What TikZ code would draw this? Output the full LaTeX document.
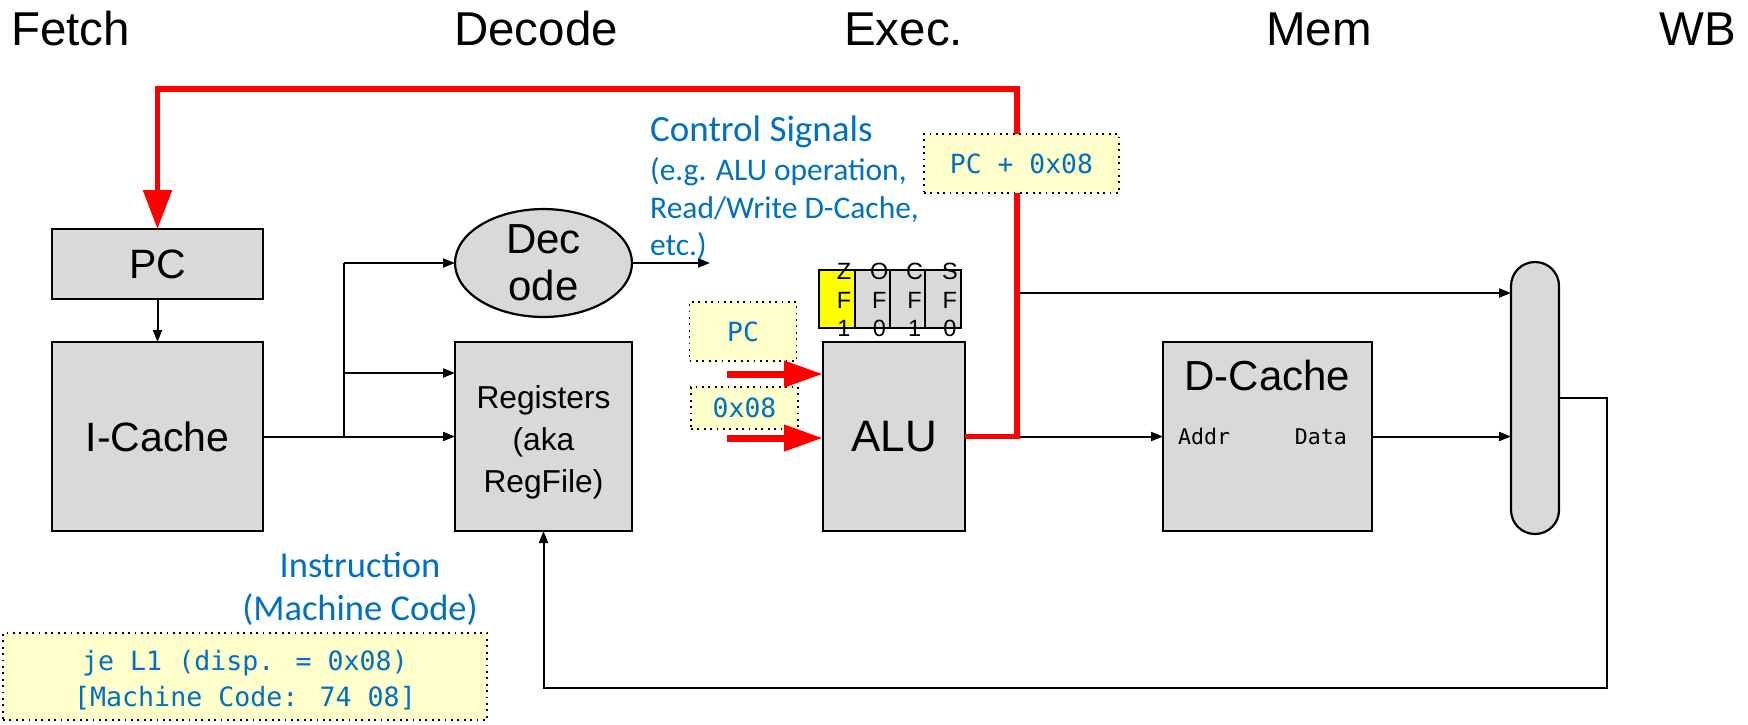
\documentclass[tikz,border=0pt]{standalone}
\usepackage{fontspec}
\setmainfont{Liberation Sans}
\newfontfamily\calfont{Carlito}
\newfontfamily\codefont{DejaVu Sans Mono}
\usetikzlibrary{arrows.meta,shapes.geometric,calc}
\definecolor{boxgray}{RGB}{217,217,217}
\definecolor{notefill}{RGB}{255,255,204}
\definecolor{sigblue}{RGB}{0,112,192}
\definecolor{pathred}{RGB}{255,0,0}
\definecolor{flagyellow}{RGB}{255,255,0}
\newcommand\setfs[2]{\fontsize{#1}{#2}\selectfont}

\begin{document}
\begin{tikzpicture}[x=1pt,y=-1pt,
  unit/.style={draw=black, line width=2.2pt, fill=boxgray, inner sep=0pt, outer sep=0pt},
  box/.style={unit, rectangle},
  note/.style={draw=black, line width=1.8pt, dash pattern=on 1.8pt off 4.6pt,
    fill=notefill, inner sep=0pt, outer sep=0pt, text=sigblue, align=center,
    font=\codefont\setfs{26.4}{36}},
  notetext/.style={inner sep=0pt, text=sigblue, align=center, anchor=base,
    font=\codefont\setfs{26.6}{36}},
  wire/.style={line width=2pt, -{Triangle[length=12pt,width=9pt]}},
  plain/.style={line width=2pt},
  redpath/.style={draw=pathred, line width=5.5pt},
  redin/.style={draw=pathred, line width=7pt, -{Triangle[length=39pt,width=25pt]}},
  stage/.style={anchor=base west, inner sep=0pt, font=\setfs{47.5}{50}},
  sig/.style={anchor=base west, inner sep=0pt, text=sigblue, font=\calfont\setfs{31.5}{38}},
  flagcell/.style={box, line width=2pt, minimum width=35.3pt, minimum height=58pt},
  flagtext/.style={inner sep=0pt, align=center, font=\setfs{23.5}{28.5}}
]
\useasboundingbox (0,0) rectangle (1748,724);

% pipeline stage titles
\node[stage] (tFetch) at (11,45) {Fetch};
\node[stage] (tDecode) at (454,45) {Decode};
\node[stage] (tExec) at (844,45) {Exec.};
\node[stage] (tMem) at (1266,45) {Mem};
\node[stage] (tWB) at (1659,45) {WB};

% main blocks
\node[box, minimum width=211pt, minimum height=70pt, font=\setfs{41}{46}] (pc) at (157.5,264) {PC};
\node[box, minimum width=211pt, minimum height=189pt, font=\setfs{41}{46}] (icache) at (157.5,436.5) {I-Cache};
\node[unit, ellipse, minimum width=177pt, minimum height=102pt, align=center, font=\setfs{42}{47}] (decode) at (543.5,263) {Dec\\ode};
\node[box, minimum width=177pt, minimum height=189pt] (regs) at (543.5,436.5) {};
\node[inner sep=0pt, align=center, font=\setfs{31.7}{42}] (regslabel) at (543.5,442) {Registers\\(aka\\RegFile)};
\node[box, minimum width=142pt, minimum height=189pt, font=\setfs{44}{48}] (alu) at (894,436.5) {ALU};
\node[box, minimum width=209pt, minimum height=189pt] (dcache) at (1267.5,436.5) {};
\node[font=\setfs{42}{46}, anchor=base, inner sep=0pt] (dclabel) at (1267.5,390) {D-Cache};
\node[font=\codefont\setfs{21.6}{24}, anchor=west, inner sep=0pt] (addr) at (1178,436.5) {Addr};
\node[font=\codefont\setfs{21.6}{24}, anchor=east, inner sep=0pt] (data) at (1347,436.5) {Data};
\node[box, rounded corners=23.9pt, minimum width=48pt, minimum height=272pt] (mux) at (1535,398) {};

% condition flags
\node[flagcell, fill=flagyellow] (zf) at (837,299) {};
\node[flagcell] (of) at (872.3,299) {};
\node[flagcell] (cf) at (907.6,299) {};
\node[flagcell] (sf) at (942.9,299) {};
\node[flagtext] (zft) at ($(zf.center)+(7,1)$) {Z\\F\\1};
\node[flagtext] (oft) at ($(of.center)+(7,1)$) {O\\F\\0};
\node[flagtext] (cft) at ($(cf.center)+(7,1)$) {C\\F\\1};
\node[flagtext] (sft) at ($(sf.center)+(7,1)$) {S\\F\\0};

% value notes
\node[note, minimum width=107pt, minimum height=59pt] (pcnote) at (743,331.5) {PC};
\node[note, minimum width=107pt, minimum height=42pt] (immnote) at (744.5,408) {0x08};
\node[note, minimum width=484pt, minimum height=87pt] (instnote) at (245,676.5) {};
\node[notetext] (insttext) at (245,706) {je L1 (disp. = 0x08)\\{[}Machine Code: 74 08{]}};

% blue annotations
\node[sig, font=\calfont\setfs{37}{40}] (ctl1) at (650,141) {Control Signals};
\node[sig] (ctl2) at (650,180) {(e.g. ALU operation,};
\node[sig] (ctl3) at (650,218) {Read/Write D-Cache,};
\node[sig] (ctl4) at (650,255) {etc.)};
\node[inner sep=0pt, text=sigblue, align=center, font=\calfont\setfs{36.5}{43}, anchor=base] (instlabel) at (360,620) {Instruction\\(Machine Code)};

% junctions and free ends
\coordinate (br) at (344,436.5);
\coordinate (ctlend) at (710,263);
\coordinate (tap) at (1017,293);
\coordinate (loopTR) at (1017,89);
\coordinate (fbk) at (1607,688);
\coordinate (pcin) at (727,374);
\coordinate (immin) at (727,438);

% fetch and decode wiring
\draw[wire] (pc.south) -- (icache.north);
\draw[wire] (icache.east) -- (regs.west);
\draw[plain] (br) -- (br |- decode.west);
\draw[wire] (br |- decode.west) -- (decode.west);
\draw[wire] (br |- 0,373) -- (regs.west |- 0,373);
\draw[wire] (decode.east) -- (ctlend);

% execute, memory and write-back wiring
\draw[wire] (alu.east) -- (dcache.west);
\draw[wire] (tap) -- (tap -| mux.west);
\draw[wire] (dcache.east) -- (dcache.east -| mux.west);
\draw[wire] (mux.east) -| (fbk) -| (regs.south);

% branch target path
\draw[redpath, -{Triangle[length=39pt,width=28pt]}] (alu.east) -| (loopTR) -| (pc.north);
\draw[redin] (pcin) -- (pcin -| alu.west);
\draw[redin] (immin) -- (immin -| alu.west);

% branch target value, laid over the red path
\node[note, minimum width=195pt, minimum height=59pt] (sumnote) at (1021.5,163.5) {PC + 0x08};
\end{tikzpicture}
\end{document}
